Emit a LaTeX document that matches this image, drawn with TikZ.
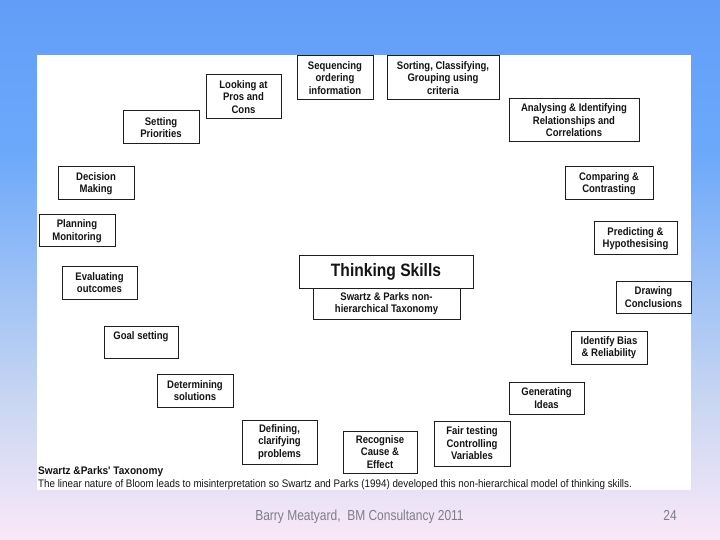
\documentclass[tikz,border=0pt]{standalone}
\usepackage{fontspec}
\setmainfont{Liberation Sans}
\newfontfamily\boxfont[FakeStretch=0.87]{Liberation Sans}
\newfontfamily\capfont[FakeStretch=0.895]{Liberation Sans}
\newfontfamily\capboldfont[FakeStretch=0.92]{Liberation Sans}
\newfontfamily\footfont[FakeStretch=0.83]{Liberation Sans}
\definecolor{bgA}{RGB}{98,158,248}
\definecolor{bgB}{RGB}{108,168,250}
\definecolor{bgC}{RGB}{200,214,242}
\definecolor{bgD}{RGB}{250,232,248}
\definecolor{boxline}{RGB}{30,30,30}
\definecolor{boxtext}{RGB}{20,20,20}
\definecolor{foot}{RGB}{125,125,135}
\tikzset{
  skill/.style={draw=boxline, line width=1bp, fill=white, align=center,
    inner sep=0pt, text=boxtext,
    font=\boxfont\bfseries\fontsize{11}{12.5}\selectfont},
  title/.style={skill, font=\boxfont\bfseries\fontsize{18}{20}\selectfont},
  captxt/.style={anchor=base west, inner sep=0pt, text=boxtext},
  foottxt/.style={anchor=base, inner sep=0pt, text=foot,
    font=\footfont\fontsize{14.5}{16}\selectfont}
}
\newcommand\skillbox[7][skill]{%
  \node[#1, minimum width={(#5-#3)*1bp}, minimum height={(#6-#4)*1bp}]
    (#2) at ({(#3+#5)/2},{(#4+#6)/2}) {#7};}
\begin{document}
\begin{tikzpicture}[x=1bp,y=-1bp]
\useasboundingbox (0,0) rectangle (720,540);
% background
\shade[top color=bgA, bottom color=bgB] (0,0) rectangle (720,150);
\shade[top color=bgB, bottom color=bgC] (0,150) rectangle (720,400);
\shade[top color=bgC, bottom color=bgD] (0,400) rectangle (720,540);
% white panel
\fill[white] (37,55) rectangle (691,490);
% skill boxes
\skillbox{seq}{297}{56}{373}{100}{Sequencing\\ordering\\information}
\skillbox{sort}{387}{56}{499}{100}{Sorting, Classifying,\\Grouping using\\criteria}
\skillbox{anal}{509}{99}{639}{142}{Analysing \& Identifying\\Relationships and\\Correlations}
\skillbox{comp}{565}{167}{653}{200}{Comparing \&\\Contrasting}
\skillbox{pred}{594}{222}{677}{255}{Predicting \&\\Hypothesising}
\skillbox{drw}{616}{281}{691}{313}{Drawing\\Conclusions}
\skillbox{bias}{571}{331}{647}{364}{Identify Bias\\\& Reliability}
\skillbox{gen}{509}{382}{584}{414}{Generating\\Ideas}
\skillbox{fair}{434}{421}{510}{466}{Fair testing\\Controlling\\Variables}
\skillbox{rec}{343}{431}{417}{473}{Recognise\\Cause \&\\Effect}
\skillbox{def}{242}{420}{317}{464}{Defining,\\clarifying\\problems}
\skillbox{det}{157}{374}{233}{407}{Determining\\solutions}
\skillbox{goal}{104}{326}{178}{358}{Goal setting\\~}
\skillbox{eval}{62}{266}{137}{299}{Evaluating\\outcomes}
\skillbox{plan}{39}{215}{115}{247}{Planning\\Monitoring}
\skillbox{dec}{58}{167}{134}{200}{Decision\\Making}
\skillbox{prio}{123}{111}{199}{144}{Setting\\Priorities}
\skillbox{pros}{206}{75}{281}{119}{Looking at\\Pros and\\Cons}
% centre
\skillbox{swartz}{313}{288}{460}{319}{Swartz \& Parks non-\\hierarchical Taxonomy}
\skillbox[title]{think}{299}{256}{473}{288}{Thinking Skills}
% caption
\node[captxt, font=\capboldfont\bfseries\fontsize{11}{12}\selectfont] (capA) at (38,474) {Swartz \&Parks' Taxonomy};
\node[captxt, font=\capfont\fontsize{11}{12}\selectfont] (capB) at (38,487) {The linear nature of Bloom leads to misinterpretation so Swartz and Parks (1994) developed this non-hierarchical model of thinking skills.};
% footer
\node[foottxt] (footer) at (359.5,520) {Barry Meatyard,\ \ BM Consultancy 2011};
\node[foottxt] (page) at (670,520) {24};
\end{tikzpicture}
\end{document}
